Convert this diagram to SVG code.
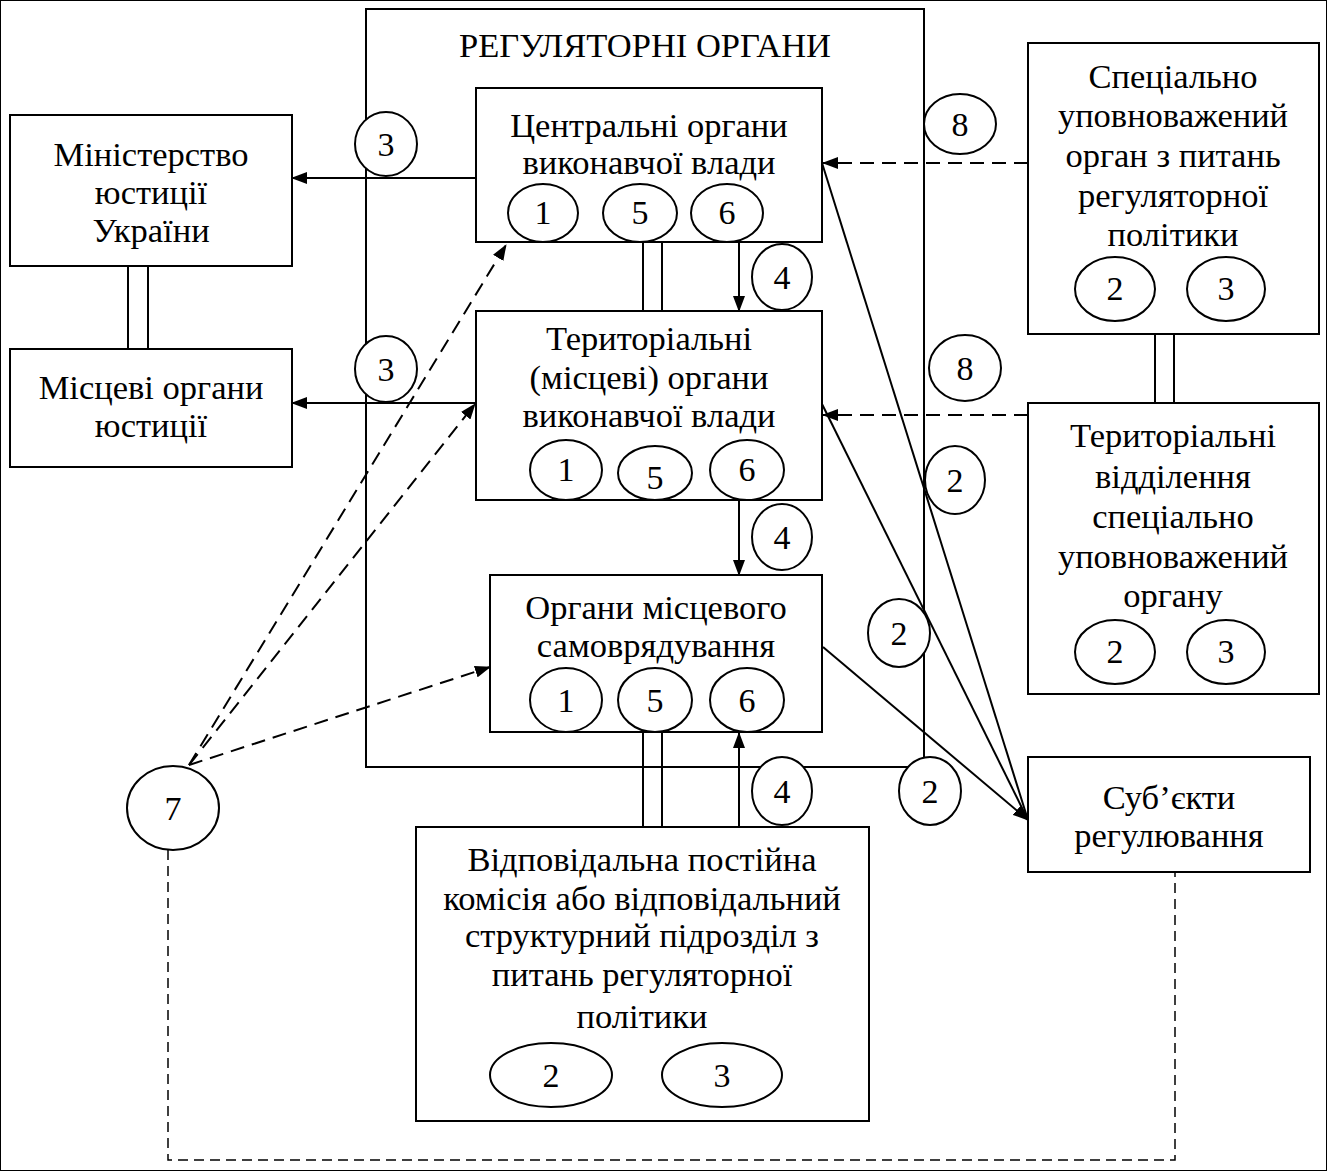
<svg xmlns="http://www.w3.org/2000/svg" width="1327" height="1171" viewBox="0 0 1327 1171">
<defs>
<marker id="ah" markerWidth="16" markerHeight="12" refX="15" refY="6" orient="auto" markerUnits="userSpaceOnUse"><path d="M0,0 L16,6 L0,12 Z" fill="#000"/></marker>
<style>
rect,ellipse{fill:#fff;stroke:#000;stroke-width:2}
text{font-family:"Liberation Serif","Times New Roman",serif;font-size:34.5px;fill:#000;text-anchor:middle}
text.n{font-size:34px}
.c line,.c path{stroke:#000;stroke-width:2;fill:none}
.c .d{stroke-dasharray:14 8}
.c .fd{stroke-width:1.5;stroke-dasharray:10 6}
</style>
</defs>
<rect width="1327" height="1171" fill="#fff" stroke="none"/>
<g id="regulatory">
<rect x="366" y="9" width="558" height="758"/>
<text x="645" y="57">РЕГУЛЯТОРНІ ОРГАНИ</text>
</g>
<g id="central">
<rect x="476" y="88" width="346" height="154"/>
<text x="649" y="137">Центральні органи</text>
<text x="649" y="174">виконавчої влади</text>
<ellipse cx="543" cy="213" rx="35" ry="29"/><text class="n" x="543" y="224">1</text>
<ellipse cx="640" cy="213" rx="37" ry="29"/><text class="n" x="640" y="224">5</text>
<ellipse cx="727" cy="213" rx="36" ry="29"/><text class="n" x="727" y="224">6</text>
</g>
<g id="territorial">
<rect x="476" y="311" width="346" height="189"/>
<text x="649" y="350">Територіальні</text>
<text x="649" y="389">(місцеві) органи</text>
<text x="649" y="427">виконавчої влади</text>
<ellipse cx="566" cy="470" rx="36" ry="30"/><text class="n" x="566" y="481">1</text>
<ellipse cx="655" cy="473" rx="37" ry="27"/><text class="n" x="655" y="489">5</text>
<ellipse cx="747" cy="470" rx="37" ry="30"/><text class="n" x="747" y="481">6</text>
</g>
<g id="local-gov">
<rect x="490" y="575" width="332" height="157"/>
<text x="656" y="619">Органи місцевого</text>
<text x="656" y="657">самоврядування</text>
<ellipse cx="566" cy="700" rx="36" ry="32"/><text class="n" x="566" y="712">1</text>
<ellipse cx="655" cy="700" rx="37" ry="32"/><text class="n" x="655" y="712">5</text>
<ellipse cx="747" cy="700" rx="37" ry="32"/><text class="n" x="747" y="712">6</text>
</g>
<g id="ministry">
<rect x="10" y="115" width="282" height="151"/>
<text x="151" y="166">Міністерство</text>
<text x="151" y="204">юстиції</text>
<text x="151" y="242">України</text>
</g>
<g id="local-justice">
<rect x="10" y="349" width="282" height="118"/>
<text x="151" y="399">Місцеві органи</text>
<text x="151" y="437">юстиції</text>
</g>
<g id="special-body">
<rect x="1028" y="43" width="291" height="291"/>
<text x="1173" y="88">Спеціально</text>
<text x="1173" y="127">уповноважений</text>
<text x="1173" y="167">орган з питань</text>
<text x="1173" y="207">регуляторної</text>
<text x="1173" y="246">політики</text>
<ellipse cx="1115" cy="289" rx="40" ry="32"/><text class="n" x="1115" y="300">2</text>
<ellipse cx="1226" cy="289" rx="39" ry="32"/><text class="n" x="1226" y="300">3</text>
</g>
<g id="special-branch">
<rect x="1028" y="403" width="291" height="291"/>
<text x="1173" y="447">Територіальні</text>
<text x="1173" y="488">відділення</text>
<text x="1173" y="528">спеціально</text>
<text x="1173" y="568">уповноважений</text>
<text x="1173" y="607">органу</text>
<ellipse cx="1115" cy="652" rx="40" ry="32"/><text class="n" x="1115" y="663">2</text>
<ellipse cx="1226" cy="652" rx="39" ry="32"/><text class="n" x="1226" y="663">3</text>
</g>
<g id="subjects">
<rect x="1028" y="757" width="282" height="115"/>
<text x="1169" y="809">Суб’єкти</text>
<text x="1169" y="847">регулювання</text>
</g>
<g id="commission">
<rect x="416" y="827" width="453" height="294"/>
<text x="642" y="871">Відповідальна постійна</text>
<text x="642" y="910">комісія або відповідальний</text>
<text x="642" y="947">структурний підрозділ з</text>
<text x="642" y="986">питань регуляторної</text>
<text x="642" y="1028">політики</text>
<ellipse cx="551" cy="1075" rx="61" ry="32"/><text class="n" x="551" y="1087">2</text>
<ellipse cx="722" cy="1075" rx="60" ry="32"/><text class="n" x="722" y="1087">3</text>
</g>
<g id="connectors" class="c">
<line x1="476" y1="178" x2="292" y2="178" marker-end="url(#ah)"/>
<line x1="476" y1="403" x2="292" y2="403" marker-end="url(#ah)"/>
<line x1="128" y1="266" x2="128" y2="349"/><line x1="148" y1="266" x2="148" y2="349"/>
<line x1="643" y1="242" x2="643" y2="311"/><line x1="662" y1="242" x2="662" y2="311"/>
<line x1="643" y1="732" x2="643" y2="827"/><line x1="662" y1="732" x2="662" y2="827"/>
<line x1="1155" y1="334" x2="1155" y2="403"/><line x1="1174" y1="334" x2="1174" y2="403"/>
<line x1="739" y1="242" x2="739" y2="311" marker-end="url(#ah)"/>
<line x1="739" y1="500" x2="739" y2="575" marker-end="url(#ah)"/>
<line x1="739" y1="827" x2="739" y2="733" marker-end="url(#ah)"/>
<line class="d" x1="1028" y1="163" x2="823" y2="163" marker-end="url(#ah)"/>
<line class="d" x1="1028" y1="415" x2="823" y2="415" marker-end="url(#ah)"/>
<line x1="822" y1="163" x2="1028" y2="820"/>
<line x1="822" y1="404" x2="1028" y2="820"/>
<line x1="823" y1="647" x2="1028" y2="820" marker-end="url(#ah)"/>
<line class="d" x1="189" y1="765" x2="506" y2="245" marker-end="url(#ah)"/>
<line class="d" x1="189" y1="765" x2="475" y2="404" marker-end="url(#ah)"/>
<line class="d" x1="189" y1="765" x2="490" y2="667" marker-end="url(#ah)"/>
<path class="fd" d="M168,850 V1160 H1175 V872"/>
</g>
<g id="labels">
<ellipse cx="386" cy="144" rx="31" ry="32"/><text class="n" x="386" y="156">3</text>
<ellipse cx="386" cy="369" rx="31" ry="33"/><text class="n" x="386" y="381">3</text>
<ellipse cx="782" cy="277" rx="30" ry="33"/><text class="n" x="782" y="289">4</text>
<ellipse cx="782" cy="537" rx="30" ry="33"/><text class="n" x="782" y="549">4</text>
<ellipse cx="782" cy="791" rx="30" ry="34"/><text class="n" x="782" y="803">4</text>
<ellipse cx="960" cy="124" rx="36" ry="30"/><text class="n" x="960" y="136">8</text>
<ellipse cx="965" cy="368" rx="36" ry="33"/><text class="n" x="965" y="380">8</text>
<ellipse cx="955" cy="480" rx="30" ry="34"/><text class="n" x="955" y="492">2</text>
<ellipse cx="899" cy="633" rx="31" ry="34"/><text class="n" x="899" y="645">2</text>
<ellipse cx="930" cy="791" rx="31" ry="34"/><text class="n" x="930" y="803">2</text>
<ellipse cx="173" cy="808" rx="46" ry="42"/><text class="n" x="173" y="820">7</text>
</g>
</svg>
